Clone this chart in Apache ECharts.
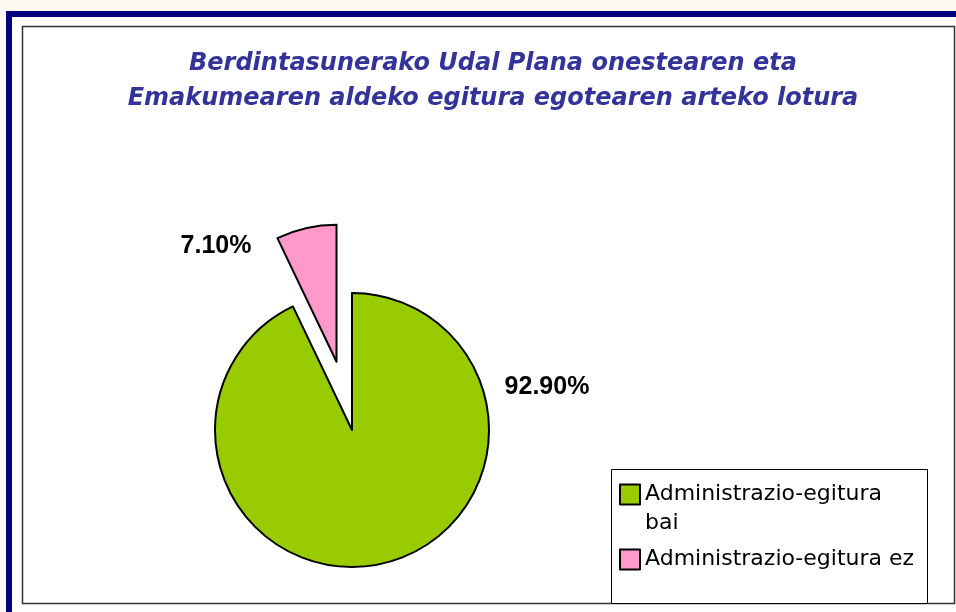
<!DOCTYPE html>
<html>
<head>
<meta charset="utf-8">
<script src="https://cdn.jsdelivr.net/npm/echarts@6/dist/echarts.min.js"></script>
<style>
  html, body { margin: 0; padding: 0; background: #fcf9f1; }
  #chart { width: 956px; height: 612px; }
</style>
</head>
<body>
<div id="chart"></div>
<script>
// datos
var titleLines = ['Berdintasunerako Udal Plana onestearen eta', 'Emakumearen aldeko egitura egotearen arteko lotura']
var categories = ['Administrazio-egitura bai', 'Administrazio-egitura ez']
var values = [92.9, 7.1]
var colors = ['#99cc00', '#ff99cc']

var pieCenter = [352, 430]
var pieRadius = 137
var explode = 70

// la porcion rosa va separada en la direccion de su angulo medio
var total = values[0] + values[1]
var midAngle = 2 * Math.PI * (values[0] + values[1] / 2) / total
var pinkCenter = [pieCenter[0] + explode * Math.sin(midAngle), pieCenter[1] - explode * Math.cos(midAngle)]

var labelPos = [[547, 387], [216, 246]]

function pieSeries (idx, center) {
  return {
    type: 'pie',
    center: center,
    radius: pieRadius,
    startAngle: 90,
    clockwise: true,
    silent: true,
    avoidLabelOverlap: false,
    label: {
      formatter: function (p) { return p.value.toFixed(2) + '%' },
      fontFamily: 'Liberation Sans, Arial, sans-serif',
      fontSize: 25,
      fontWeight: 'bold',
      color: '#000000'
    },
    labelLine: { show: false },
    labelLayout: function () {
      return { x: labelPos[idx][0], y: labelPos[idx][1], align: 'center', verticalAlign: 'middle' }
    },
    emphasis: { disabled: true },
    data: categories.map(function (c, i) {
      var on = i === idx
      return {
        name: c,
        value: values[i],
        label: { show: on },
        itemStyle: on
          ? { color: colors[i], borderColor: '#000000', borderWidth: 2 }
          : { color: 'rgba(0,0,0,0)', borderWidth: 0 }
      }
    })
  }
}

var chart = echarts.init(document.getElementById('chart'))

var option = {
  backgroundColor: 'transparent',
  animation: false,
  title: {
    text: titleLines.join('\n'),
    left: 488,
    top: 41,
    textAlign: 'center',
    textStyle: {
      fontFamily: 'DejaVu Sans',
      fontSize: 24,
      fontStyle: 'italic',
      fontWeight: 'bold',
      color: '#333399',
      lineHeight: 35
    }
  },
  graphic: [
    // marco azul
    { type: 'rect', z: -10, shape: { x: 6, y: 11, width: 950, height: 601 }, style: { fill: '#000080' } },
    { type: 'rect', z: -9, shape: { x: 12, y: 17, width: 944, height: 595 }, style: { fill: '#fefefe' } },
    // area del grafico
    { type: 'rect', z: -8, shape: { x: 22.5, y: 26.5, width: 932, height: 577 }, style: { fill: '#ffffff', stroke: '#333333', lineWidth: 1.5 } },
    // caja de la leyenda
    { type: 'rect', z: -7, shape: { x: 611.5, y: 469.5, width: 316, height: 134 }, style: { fill: '#ffffff', stroke: '#000000', lineWidth: 1 } }
  ],
  legend: {
    data: categories.map(function (c, i) {
      return { name: c, itemStyle: { color: colors[i], borderColor: '#000000', borderWidth: 2 } }
    }),
    orient: 'vertical',
    left: 614,
    top: 446,
    itemWidth: 20,
    itemHeight: 20,
    itemGap: 7,
    icon: 'rect',
    selectedMode: false,
    textStyle: {
      fontFamily: 'DejaVu Sans',
      fontSize: 22,
      color: '#000000',
      lineHeight: 29
    },
    formatter: function (name) {
      if (name === categories[0]) return ' \nAdministrazio-egitura\nbai'
      return name
    }
  },
  series: [
    pieSeries(0, pieCenter),
    pieSeries(1, pinkCenter)
  ]
}

chart.setOption(option)
</script>
</body>
</html>
